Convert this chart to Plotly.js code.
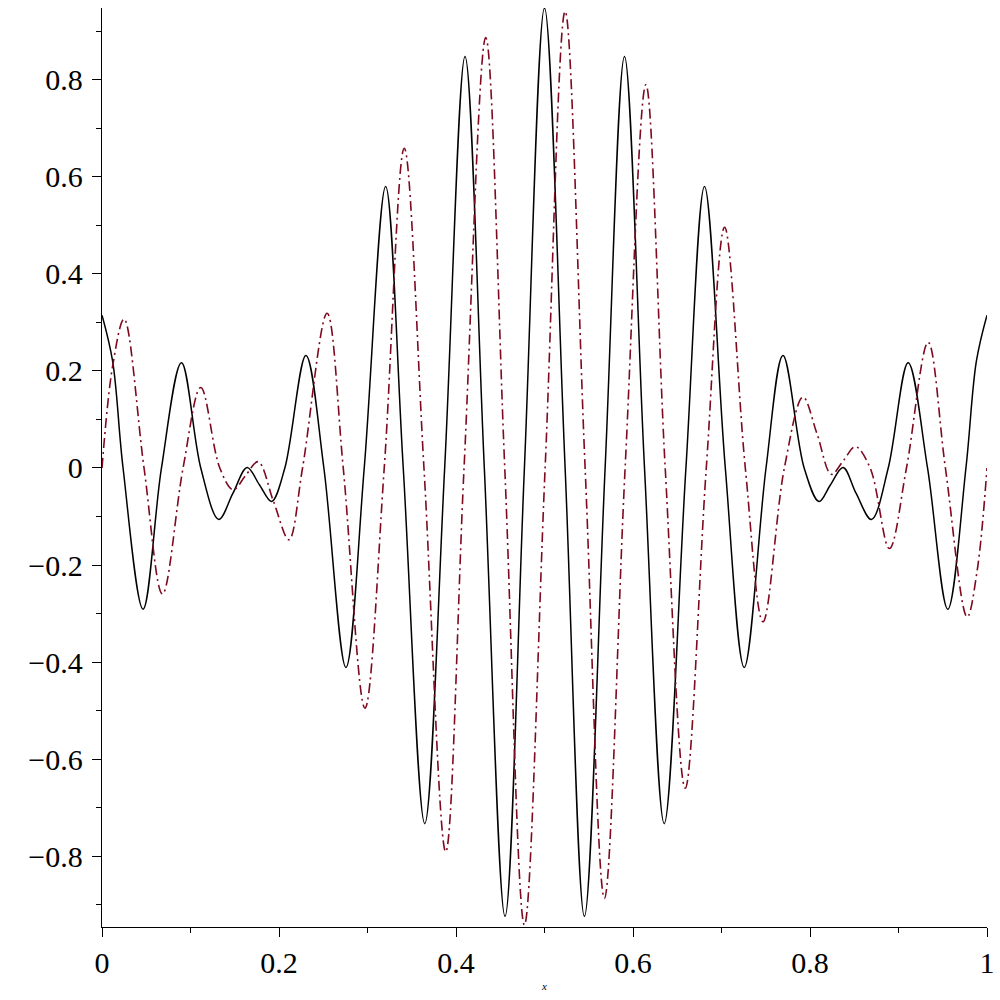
<!DOCTYPE html>
<html>
<head>
<meta charset="utf-8">
<script src="https://cdn.plot.ly/plotly-3.0.1.min.js"></script>
<style>html,body{margin:0;padding:0;background:#fff;}#chart{width:1000px;height:1000px;}</style>
</head>
<body>
<div id="chart"></div>
<script>
// Black solid curve (extrema, zero crossings, a few mid points)
var blackX = [0, 0.012, 0.0238, 0.0464, 0.0672, 0.0898, 0.1116, 0.132, 0.148, 0.164, 0.178, 0.1916, 0.2066, 0.2304, 0.2507, 0.2756, 0.2963, 0.3205, 0.3404, 0.3647, 0.3872, 0.4102, 0.432, 0.4554, 0.4773, 0.5, 0.5233, 0.5451, 0.5685, 0.5904, 0.613, 0.6353, 0.6598, 0.6808, 0.7043, 0.7257, 0.7503, 0.7695, 0.7934, 0.8102, 0.823, 0.8374, 0.852, 0.8694, 0.8884, 0.9109, 0.9328, 0.9557, 0.9762, 0.988, 1];
var blackY = [0.315, 0.22, 0, -0.291, 0, 0.217, 0, -0.106, -0.052, 0.001, -0.035, -0.069, 0, 0.232, 0, -0.411, 0, 0.58, 0, -0.733, 0, 0.848, 0, -0.924, 0, 0.948, 0, -0.924, 0, 0.848, 0, -0.733, 0, 0.58, 0, -0.411, 0, 0.232, 0, -0.069, -0.035, 0.001, -0.052, -0.106, 0, 0.217, 0, -0.291, 0, 0.22, 0.315];

// Dark red dash-dot curve
var redX = [0, 0.012, 0.0249, 0.0475, 0.0683, 0.0916, 0.1116, 0.1331, 0.1482, 0.162, 0.1764, 0.194, 0.2112, 0.2266, 0.2543, 0.2726, 0.2971, 0.3189, 0.3415, 0.3638, 0.3884, 0.4091, 0.4336, 0.4551, 0.4773, 0.5007, 0.5233, 0.5459, 0.5677, 0.5911, 0.6146, 0.6364, 0.659, 0.6828, 0.7035, 0.7269, 0.7469, 0.771, 0.7921, 0.808, 0.8241, 0.838, 0.8513, 0.868, 0.8897, 0.909, 0.9335, 0.953, 0.9776, 0.989, 1];
var redY = [0, 0.21, 0.307, 0, -0.26, 0, 0.166, 0, -0.045, -0.016, 0.013, -0.07, -0.148, 0, 0.319, 0, -0.495, 0, 0.659, 0, -0.791, 0, 0.887, 0, -0.942, 0, 0.941, 0, -0.887, 0, 0.79, 0, -0.66, 0, 0.496, 0, -0.317, 0, 0.146, 0.07, -0.013, 0.016, 0.044, 0, -0.166, 0, 0.259, 0, -0.307, -0.21, 0];

var xTickVals = [0, 0.2, 0.4, 0.6, 0.8, 1];
var xTickText = ['0', '0.2', '0.4', '0.6', '0.8', '1'];
var yTickVals = [-0.8, -0.6, -0.4, -0.2, 0, 0.2, 0.4, 0.6, 0.8];
var yTickText = ['\u22120.8', '\u22120.6', '\u22120.4', '\u22120.2', '0', '0.2', '0.4', '0.6', '0.8'];

var traces = [
  {x: blackX, y: blackY, type: 'scatter', mode: 'lines',
   line: {color: '#000000', width: 1.5, shape: 'spline', smoothing: 1}, hoverinfo: 'skip'},
  {x: redX, y: redY, type: 'scatter', mode: 'lines',
   line: {color: '#7d0a1e', width: 1.6, shape: 'spline', smoothing: 1, dash: '10px,4px,2px,4px'}, hoverinfo: 'skip'}
];

var serif = 'Liberation Serif, Times New Roman, serif';
var tickFont = {family: serif, size: 30, color: '#000000'};

var layout = {
  width: 1000, height: 1000,
  margin: {l: 102, r: 13, t: 8, b: 73},
  paper_bgcolor: '#fff', plot_bgcolor: '#fff',
  showlegend: false,
  font: {family: serif, color: '#000000'},
  xaxis: {
    range: [0, 1], showgrid: false, zeroline: false,
    showline: true, linecolor: '#000', linewidth: 1.3,
    ticks: 'outside', ticklen: 9, tickcolor: '#000', tickwidth: 1,
    tickvals: xTickVals, ticktext: xTickText,
    minor: {dtick: 0.1, ticks: 'outside', ticklen: 5, tickcolor: '#000', tickwidth: 1, showgrid: false},
    tickfont: tickFont,
    title: {text: 'x', font: {family: serif, size: 11, style: 'italic', color: '#000000'}, standoff: 4}
  },
  yaxis: {
    range: [-0.946, 0.948], showgrid: false, zeroline: false,
    showline: true, linecolor: '#000', linewidth: 1.3,
    ticks: 'outside', ticklen: 9, tickcolor: '#000', tickwidth: 1,
    ticklabelstandoff: 3,
    tickvals: yTickVals, ticktext: yTickText,
    minor: {dtick: 0.1, tick0: 0, ticks: 'outside', ticklen: 5, tickcolor: '#000', tickwidth: 1, showgrid: false},
    tickfont: tickFont
  }
};

Plotly.newPlot('chart', traces, layout, {displayModeBar: false, staticPlot: true});
</script>
</body>
</html>
